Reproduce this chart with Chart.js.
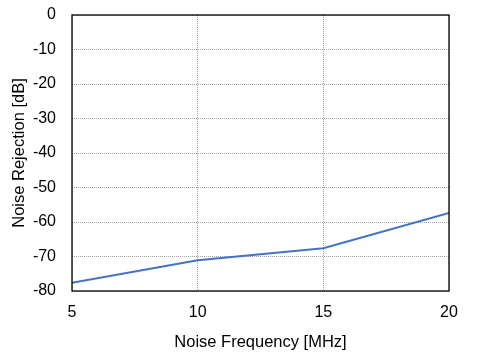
<!DOCTYPE html>
<html><head><meta charset="utf-8">
<script src="https://cdn.jsdelivr.net/npm/chart.js@4"></script>
<style>html,body{margin:0;padding:0;background:#fff}#wrap{width:484px;height:356px}</style>
</head><body><div id="wrap"><canvas id="c" width="484" height="356"></canvas></div>
<script>
const freqs = [5, 10, 15, 20];
const rejection = [-77.6, -71.1, -67.6, -57.4];
const xTitle = 'Noise Frequency [MHz]';
const yTitle = 'Noise Rejection [dB]';

const frame = {
  id: 'frame',
  afterDraw(chart) {
    const a = chart.chartArea, ctx = chart.ctx;
    ctx.save();
    ctx.strokeStyle = '#000';
    ctx.lineWidth = 1.3;
    ctx.strokeRect(a.left, a.top, a.right - a.left, a.bottom - a.top);
    ctx.restore();
  }
};

new Chart(document.getElementById('c'), {
  type: 'line',
  data: {
    datasets: [{
      data: freqs.map((f, i) => ({x: f, y: rejection[i]})),
      borderColor: '#4472C4',
      borderWidth: 2,
      pointRadius: 0,
      tension: 0,
      fill: false
    }]
  },
  options: {
    responsive: false,
    animation: false,
    devicePixelRatio: 1,
    layout: {padding: {top: 15, right: 35, left: 6, bottom: 0}},
    plugins: {legend: {display: false}, tooltip: {enabled: false}},
    scales: {
      x: {
        type: 'linear', min: 5, max: 20,
        afterFit(s) { s.height = 65; s.paddingLeft = 0; s.paddingRight = 0; },
        border: {display: false, dash: [1, 1]},
        grid: {color: '#a0a0a0', lineWidth: 1, drawTicks: false},
        ticks: {stepSize: 5, padding: 12, color: '#000', font: {family: 'Liberation Sans', size: 16}},
        title: {display: true, text: xTitle, color: '#000', font: {family: 'Liberation Sans', size: 16.5}, padding: {top: 3}}
      },
      y: {
        min: -80, max: 0,
        afterFit(s) { s.width = 66; s.paddingTop = 0; s.paddingBottom = 0; },
        border: {display: false, dash: [1, 1]},
        grid: {color: '#a0a0a0', lineWidth: 1, drawTicks: false},
        ticks: {stepSize: 10, padding: 16, color: '#000', font: {family: 'Liberation Sans', size: 16}},
        title: {display: true, text: yTitle, color: '#000', font: {family: 'Liberation Sans', size: 16.5}, padding: {bottom: 4}}
      }
    }
  },
  plugins: [frame]
});
</script></body></html>
